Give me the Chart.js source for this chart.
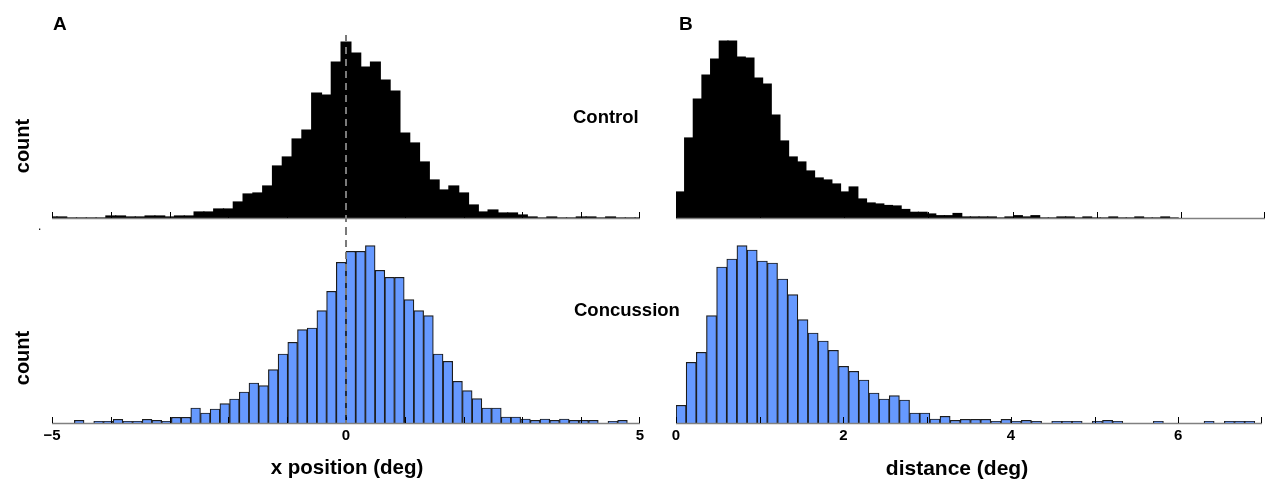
<!DOCTYPE html>
<html>
<head>
<meta charset="utf-8">
<script src="https://cdn.jsdelivr.net/npm/chart.js@4.4.1/dist/chart.umd.min.js"></script>
<style>
  body { margin: 0; background: #fff; width: 1266px; height: 483px; position: relative; overflow: hidden;
         font-family: 'Liberation Sans', Arial, sans-serif; font-weight: bold; }
  canvas { position: absolute; }
  .lbl { position: absolute; line-height: 1; white-space: nowrap; color: #000; }
  .count { font-size: 20px; transform: translate(-50%, -50%) rotate(-90deg); }
</style>
</head>
<body>
<canvas id="ctrlX" width="660" height="228" style="left:0;top:0"></canvas>
<canvas id="concX" width="660" height="255" style="left:0;top:228px"></canvas>
<canvas id="ctrlD" width="606" height="228" style="left:660px;top:0"></canvas>
<canvas id="concD" width="606" height="255" style="left:660px;top:228px"></canvas>

<div class="lbl" style="left:53px;top:14px;font-size:19px">A</div>
<div class="lbl" style="left:679px;top:14px;font-size:19px">B</div>
<div class="lbl count" style="left:22px;top:146px">count</div>
<div class="lbl count" style="left:22px;top:358px">count</div>
<div class="lbl" style="left:573px;top:108px;font-size:18.5px">Control</div>
<div class="lbl" style="left:574px;top:301px;font-size:18.5px">Concussion</div>
<div class="lbl" style="left:38px;top:220px;font-size:12px;font-weight:normal">.</div>
<div class="lbl" style="left:192px;width:310px;text-align:center;top:457px;font-size:20.5px">x position (deg)</div>
<div class="lbl" style="left:802px;width:310px;text-align:center;top:457px;font-size:21px">distance (deg)</div>

<script>
// bin counts, one value per bin, left to right
const controlXCounts = [1, 1, 0, 0, 0, 0, 2, 2, 1, 1, 2, 2, 1, 2, 2, 6, 6, 9, 9, 16,
  24, 25, 32, 52, 61, 79, 88, 125, 123, 156, 176, 165, 151, 156, 138, 127, 85, 75, 56, 38,
  28, 32, 25, 13, 6, 8, 5, 5, 3, 1, 0, 1, 0, 0, 1, 1, 0, 1, 0, 0, 0];
const concussionXCounts = [0, 0, 2.7, 0, 1.7, 1.7, 3.7, 1.7, 1.7, 3.7, 2.7, 1.7, 5.7, 5.7, 15,
  10, 14, 19.3, 24, 31, 40, 37.3, 53.3, 69, 80.7, 93.3, 95, 112.3, 131.7, 160.7,
  171.7, 171.7, 177.3, 152.7, 145.7, 145.7, 123.3, 112.3, 107.3, 69, 61.7, 41.7, 32.3, 24.3,
  15, 15, 6, 6, 4, 2.7, 4, 2.7, 4, 2.7, 2.7, 2.7, 0, 1.7, 2.7, 0];
const controlDistCounts = [26, 80, 119, 143, 159, 177, 177, 161, 160, 140,
  134, 103, 77, 61, 56, 47, 40, 38, 34, 26,
  31, 19, 15, 14, 12.5, 12, 8.5, 5.7, 5.7, 4,
  2.3, 2.3, 4.5, 1, 1, 1, 1, 0, 1, 2.3,
  1, 2.3, 0, 0, 1, 1, 0, 1, 0, 0,
  1, 0, 0, 1, 0, 0, 1, 0];
const concussionDistCounts = [17.7, 60.7, 70.7, 107.3, 156, 164, 177.3, 173, 162, 160,
  144, 128.3, 103.3, 90, 82, 72.7, 56.7, 51.7, 43, 30,
  24, 27.3, 23, 10, 10, 4, 6.7, 2.7, 3.7, 3.7,
  3.7, 1.7, 3.7, 1.7, 2.7, 1.7, 0, 1.7, 1.7, 1.7,
  0, 1.7, 2.7, 1.7, 0, 0, 0, 1.7, 0, 0,
  0, 0, 1.7, 0, 1.7, 1.7, 1.7, 0];

// bins: first left edge and width (deg)
const controlXFirstEdge = -5 - 1 / 12, controlXBinWidth = 1 / 6;
const concussionXFirstEdge = -30 * 0.165, concussionXBinWidth = 0.165;
const controlDistFirstEdge = 0, controlDistBinWidth = 0.1029;
const concussionDistFirstEdge = 0, concussionDistBinWidth = 0.1213;

// tick labels
const xTickValues = [-5, 0, 5];
const xTickLabels = ['\u22125', '0', '5'];
const distTickValues = [0, 2, 4, 6];
const distTickLabels = ['0', '2', '4', '6'];

const FONT = "'Liberation Sans', Arial, sans-serif";

// baseline, inward ticks and the dashed zero line
const histAxis = {
  id: 'histAxis',
  afterDatasetsDraw(chart, args, opts) {
    const { ctx, chartArea } = chart;
    const x = chart.scales.x;
    ctx.save();
    ctx.strokeStyle = '#808080';
    ctx.lineWidth = 1.5;
    ctx.beginPath();
    ctx.moveTo(chartArea.left, chartArea.bottom + 0.5);
    ctx.lineTo(chartArea.right, chartArea.bottom + 0.5);
    ctx.stroke();

    ctx.strokeStyle = '#000';
    ctx.lineWidth = 1;
    ctx.beginPath();
    for (let v = Math.ceil(x.min); v <= x.max; v++) {
      let px = Math.round(x.getPixelForValue(v));
      if (px >= chartArea.right) px = chartArea.right - 1;
      ctx.moveTo(px + 0.5, chartArea.bottom);
      ctx.lineTo(px + 0.5, chartArea.bottom - 6);
    }
    ctx.stroke();

    if (opts.dash) {
      const px = Math.round(x.getPixelForValue(0));
      ctx.strokeStyle = '#7a7a7a';
      ctx.lineWidth = 2;
      ctx.setLineDash([7, 5]);
      ctx.beginPath();
      ctx.moveTo(px, opts.dash.top);
      ctx.lineTo(px, opts.dash.bottom === 'base' ? chartArea.bottom : opts.dash.bottom);
      ctx.stroke();
    }
    ctx.restore();
  }
};

function drawHist(id, counts, firstEdge, binWidth, cfg) {
  const data = counts.map((c, i) => ({ x: firstEdge + (i + 0.5) * binWidth, y: c }));
  return new Chart(document.getElementById(id), {
    type: 'bar',
    data: {
      datasets: [{
        data: data,
        backgroundColor: cfg.fill,
        borderColor: cfg.edge,
        borderWidth: cfg.edgeWidth,
        borderSkipped: 'start',
        inflateAmount: cfg.inflate,
        barPercentage: 1,
        categoryPercentage: 1
      }]
    },
    options: {
      responsive: false,
      animation: false,
      devicePixelRatio: 1,
      layout: { padding: cfg.padding },
      plugins: {
        legend: { display: false },
        tooltip: { enabled: false },
        histAxis: { dash: cfg.dash }
      },
      scales: {
        x: {
          type: 'linear',
          min: cfg.min,
          max: cfg.max,
          offset: false,
          display: !!cfg.tickValues,
          grid: { display: false, drawTicks: false },
          border: { display: false },
          ticks: {
            stepSize: 1,
            autoSkip: false,
            maxRotation: 0,
            padding: 4,
            color: '#000',
            font: { family: FONT, size: 15, weight: 'bold' },
            callback: (v) => {
              if (!cfg.tickValues) return '';
              const i = cfg.tickValues.indexOf(v);
              return i >= 0 ? cfg.tickLabels[i] : '';
            }
          },
          afterFit: (scale) => { if (cfg.tickValues) scale.height = 30; }
        },
        y: { display: false, min: 0, max: cfg.yMax }
      }
    },
    plugins: [histAxis]
  });
}

const black = { fill: '#000', edge: '#000', edgeWidth: 0, inflate: 0.6 };
const blue = { fill: '#6699ff', edge: '#1c1c1c', edgeWidth: 1.2, inflate: 'auto' };

drawHist('ctrlX', controlXCounts, controlXFirstEdge, controlXBinWidth, Object.assign({}, black, {
  min: -5, max: 5, yMax: 188, padding: { left: 52, right: 20, top: 30, bottom: 10 },
  dash: { top: 35, bottom: 228 }
}));
drawHist('concX', concussionXCounts, concussionXFirstEdge, concussionXBinWidth, Object.assign({}, blue, {
  min: -5, max: 5, yMax: 193, padding: { left: 52, right: 20, top: 2, bottom: 30 },
  dash: { top: 0, bottom: 'base' }, tickValues: xTickValues, tickLabels: xTickLabels
}));
drawHist('ctrlD', controlDistCounts, controlDistFirstEdge, controlDistBinWidth, Object.assign({}, black, {
  min: 0, max: 7, yMax: 188, padding: { left: 16, right: 1, top: 30, bottom: 10 }
}));
drawHist('concD', concussionDistCounts, concussionDistFirstEdge, concussionDistBinWidth, Object.assign({}, blue, {
  min: 0, max: 7, yMax: 193, padding: { left: 16, right: 1, top: 2, bottom: 30 },
  tickValues: distTickValues, tickLabels: distTickLabels
}));
</script>
</body>
</html>
